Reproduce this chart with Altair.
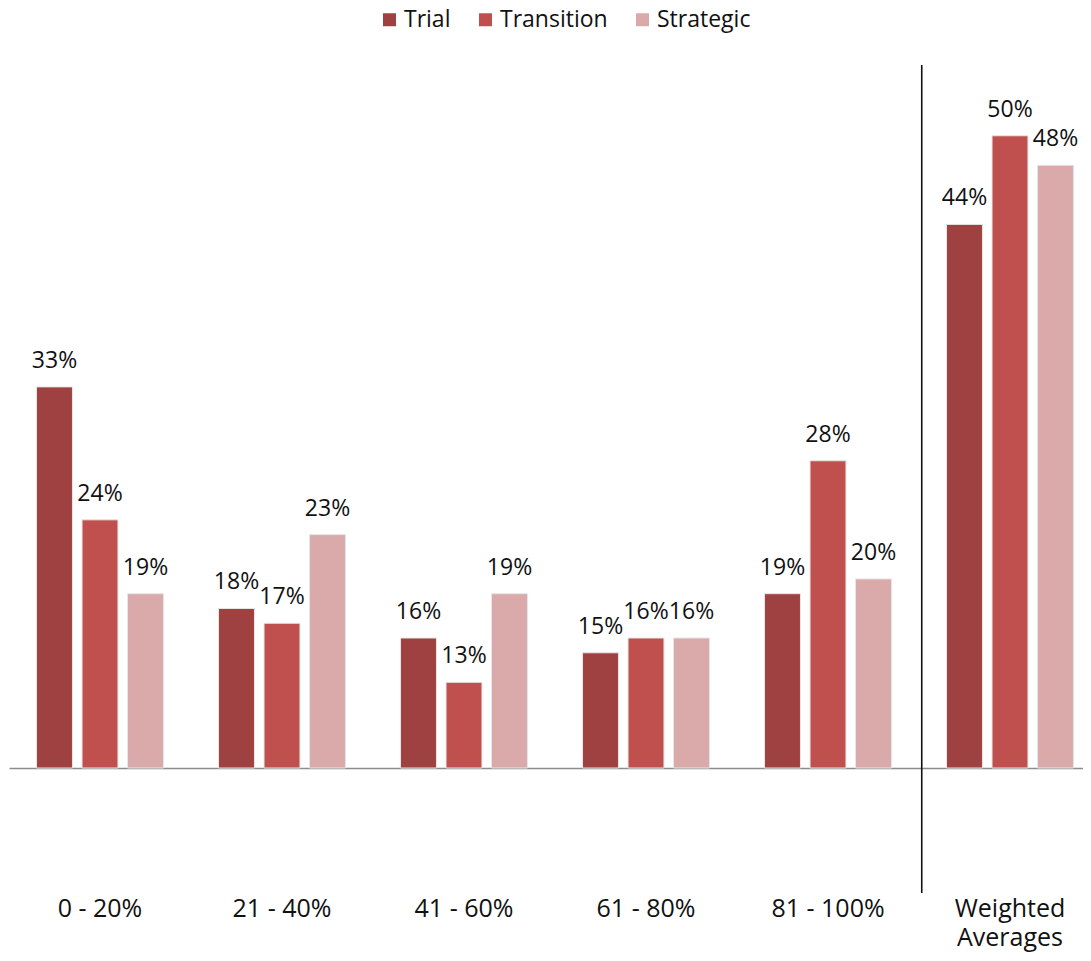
import altair as alt
import pandas as pd

categories = ["0 - 20%", "21 - 40%", "41 - 60%", "61 - 80%", "81 - 100%", "Weighted Averages"]
series = ["Trial", "Transition", "Strategic"]
trial = [33, 18, 16, 15, 19, 44]
transition = [24, 17, 13, 16, 28, 50]
strategic = [19, 23, 19, 16, 20, 48]
colors = ["#9E4140", "#C0504D", "#DAA9A9"]

rows = []
for s, vals in zip(series, [trial, transition, strategic]):
    for c, v in zip(categories, vals):
        rows.append({"cat": c, "series": s, "value": v, "label": f"{v}%"})
df = pd.DataFrame(rows)

FONT = "Open Sans"
BASE = 7.2

x = alt.X("cat:N", sort=categories,
          scale=alt.Scale(range=[0, 1092], paddingInner=0.25, paddingOuter=0.125),
          axis=alt.Axis(title=None, labelAngle=0, ticks=False, labelPadding=128,
                        labelFont=FONT, labelFontSize=25, labelColor="#111",
                        labelLineHeight=29, domainColor="#8c8c8c", domainWidth=1.5,
                        labelExpr="datum.value == 'Weighted Averages' ? ['Weighted', 'Averages'] : datum.label"))
xoff = alt.XOffset("series:N", sort=series, scale=alt.Scale(paddingInner=0.21, paddingOuter=0.105))
y = alt.Y("value:Q", scale=alt.Scale(domain=[BASE, 58.65], zero=False, nice=False), axis=None)

base = alt.Chart(df)

bars = base.mark_bar(stroke="#e6e6e6", strokeWidth=1).encode(
    x=x, xOffset=xoff, y=y, y2=alt.Y2(datum=BASE),
    color=alt.Color("series:N", sort=series,
                    scale=alt.Scale(domain=series, range=colors),
                    legend=alt.Legend(title=None, orient="none", direction="horizontal",
                                      legendX=369, legendY=0, symbolType="square",
                                      symbolSize=169, symbolStrokeWidth=0,
                                      labelFont=FONT, labelFontSize=23, labelColor="#111",
                                      columnPadding=23, labelOffset=3)),
)

labels = base.mark_text(font=FONT, fontSize=23, color="#111", baseline="alphabetic", dy=-19).encode(
    x=x, xOffset=xoff, y=y, text="label:N"
)

rule = alt.Chart(pd.DataFrame({"cat": ["Weighted Averages"]})).mark_rule(
    color="#111", strokeWidth=1.6, xOffset=-20
).encode(
    x=alt.X("cat:N", sort=categories, bandPosition=0),
    y=alt.value(57), y2=alt.value(885)
)

chart = alt.layer(bars, labels, rule).properties(
    width=1074, height=760,
    padding={"left": 1, "right": 0, "top": 0, "bottom": 185},
    autosize=alt.AutoSizeParams(type="none"),
).configure_view(stroke=None)

chart.save("out.html", embed_options={"renderer": "svg", "actions": False})
